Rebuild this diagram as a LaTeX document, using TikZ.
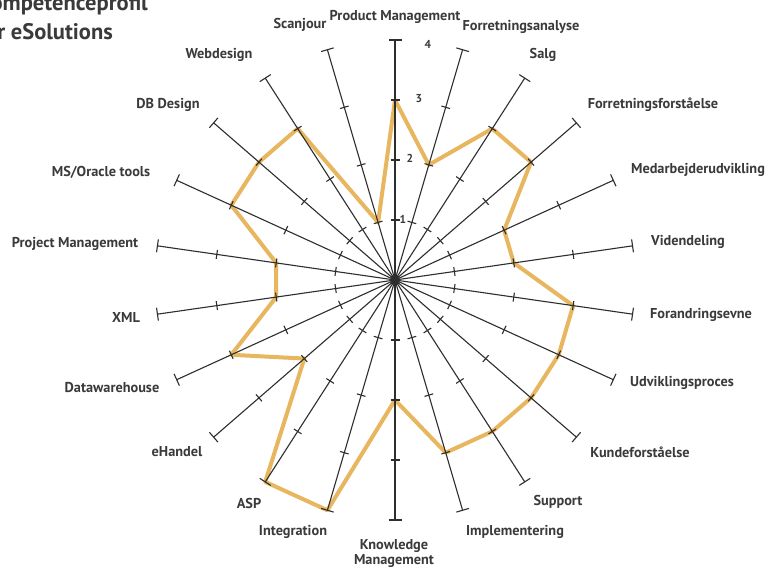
\documentclass[tikz,border=0pt]{standalone}
\usepackage{fontspec}
\setmainfont{PT Sans}
\definecolor{axisc}{HTML}{2E2E2E}
\definecolor{polyc}{HTML}{E8B65E}
\definecolor{textc}{HTML}{3A3A3A}
\begin{document}
\begin{tikzpicture}[x=1pt,y=-1pt,
  axis/.style={draw=axisc, line width=1.1pt},
  poly/.style={draw=polyc, line width=4pt, line join=round},
  lbl/.style={font=\bfseries\fontsize{14.3}{15}\selectfont, text=textc, inner sep=0pt},
  num/.style={font=\bfseries\fontsize{11.5}{12}\selectfont, text=textc, inner sep=0pt},
  ttl/.style={font=\bfseries\fontsize{22.5}{24}\selectfont, text=textc, inner sep=0pt, anchor=east}]
\useasboundingbox (0,0) rectangle (777,570);
\clip (0,0) rectangle (777,570);
\fill[white] (0,0) rectangle (777,570);
\coordinate (c) at (395,280);
\begin{scope}[shift={(395,280)}]
  \foreach \v [count=\i from 0] in {3,2,3,3,2,2,3,3,3,3,3,2,4,4,2,3,2,2,3,3,3,1}
    \coordinate (p\i) at ({\i*360/22-90}:{\v*60});
  \draw[poly] (p0) \foreach \i in {1,...,21} {-- (p\i)} -- cycle;
  \foreach \i in {0,...,21} {
    \coordinate (e\i) at ({\i*360/22-90}:240);
    \draw[axis] (c) -- (e\i);
    \foreach \t in {60,120,180}
      \draw[axis] ({\i*360/22-90}:\t) ++({\i*360/22}:4.5) -- ++({\i*360/22+180}:9);
    \draw[axis] (e\i) ++({\i*360/22}:6.5) -- ++({\i*360/22+180}:13);
  }
\end{scope}
\fill[axisc] (c) circle (5);
% scale numbers
\node[num] (n4) at (428,44) {4};
\node[num] (n3) at (419,99) {3};
\node[num] (n2) at (410,158) {2};
\node[num] (n1) at (403,219) {1};
% labels
\node[lbl] (l0) at (395,17) {Product Management};
\node[lbl] (l1) at (521,27) {Forretningsanalyse};
\node[lbl] (l2) at (543,55) {Salg};
\node[lbl] (l3) at (653,105) {Forretningsforståelse};
\node[lbl] (l4) at (698,170) {Medarbejderudvikling};
\node[lbl] (l5) at (688,242) {Videndeling};
\node[lbl] (l6) at (701,315) {Forandringsevne};
\node[lbl] (l7) at (682,383) {Udviklingsproces};
\node[lbl] (l8) at (640,452) {Kundeforståelse};
\node[lbl] (l9) at (558,502) {Support};
\node[lbl] (l10) at (515,532) {Implementering};
\node[lbl, align=center] (l11) at (394,554) {Knowledge\\Management};
\node[lbl] (l12) at (293,532) {Integration};
\node[lbl] (l13) at (249,503) {ASP};
\node[lbl] (l14) at (177,452) {eHandel};
\node[lbl] (l15) at (112,388) {Datawarehouse};
\node[lbl] (l16) at (126,317) {XML};
\node[lbl] (l17) at (75,244) {Project Management};
\node[lbl] (l18) at (101,172) {MS/Oracle tools};
\node[lbl] (l19) at (168,105) {DB Design};
\node[lbl] (l20) at (219,55) {Webdesign};
\node[lbl] (l21) at (300,25) {Scanjour};
% title (cut off at the left edge, as in the reference)
\node[ttl] (t1) at (148,5) {Kompetenceprofil};
\node[ttl] (t2) at (113,32) {for eSolutions};
\end{tikzpicture}
\end{document}
